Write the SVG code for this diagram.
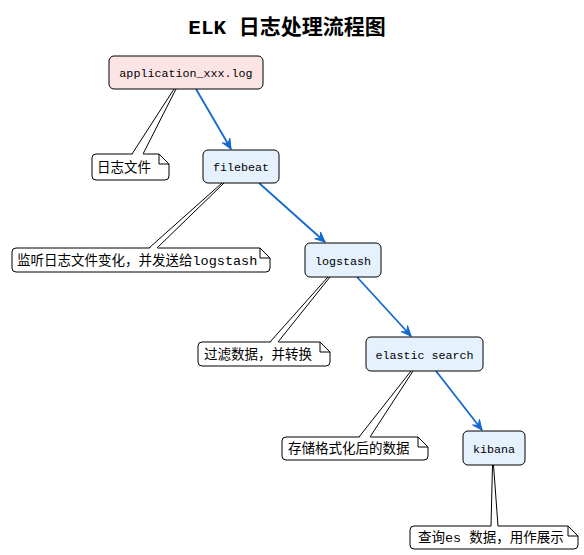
<svg xmlns="http://www.w3.org/2000/svg" width="584" height="555" viewBox="0 0 584 555">
<style>
.title{font-family:"Liberation Mono","Noto Sans CJK SC",monospace;font-size:21px;font-weight:bold;fill:#000;text-anchor:middle}
.node rect{stroke:#000;stroke-width:1}
.start rect{fill:#fde4e4}
.step rect{fill:#e5f1fd}
.node text{font-family:"Liberation Mono","Noto Sans CJK SC",monospace;font-size:11.7px;fill:#000;text-anchor:middle}
.note path.body{fill:#fff;stroke:#000;stroke-width:1}
.note path.fold{fill:none;stroke:#000;stroke-width:1}
.note polygon{fill:#fff;stroke:none}
.note line{stroke:#000;stroke-width:1}
.note text{font-family:"Liberation Mono","Noto Sans CJK SC",monospace;font-size:13.5px;fill:#000}
.edge{stroke:#1469d0;stroke-width:1.8;fill:none}
</style>
<defs>
<marker id="arr" markerUnits="userSpaceOnUse" markerWidth="14" markerHeight="12" viewBox="-11 -6 13 12" refX="0" refY="0" orient="auto">
<path d="M0,0 L-10,-4.5 L-6,0 L-10,4.5 Z" fill="#1469d0" stroke="#1469d0" stroke-width="1"/>
</marker>
</defs>
<rect width="584" height="555" fill="#fff"/>
<text class="title" x="287" y="34">ELK 日志处理流程图</text>

<g id="connectors">
<line class="edge" x1="196" y1="89" x2="231" y2="149" marker-end="url(#arr)"/>
<line class="edge" x1="259" y1="183" x2="325" y2="242" marker-end="url(#arr)"/>
<line class="edge" x1="357" y1="277" x2="411" y2="336" marker-end="url(#arr)"/>
<line class="edge" x1="436" y1="371" x2="482" y2="430" marker-end="url(#arr)"/>
</g>

<g id="note-app" class="note">
<path class="body" d="M96,154 H159 L169,164 V176 Q169,180 165,180 H96 Q92,180 92,176 V158 Q92,154 96,154 Z"/>
<path class="fold" d="M159,154 V164 H169"/>
<polygon points="175,89 132,155 143,155"/>
<line x1="174" y1="89" x2="132" y2="154"/>
<line x1="176" y1="89" x2="143" y2="154"/>
<text x="97" y="172">日志文件</text>
</g>

<g id="note-filebeat" class="note">
<path class="body" d="M16,248 H260 L270,258 V268 Q270,272 266,272 H16 Q12,272 12,268 V252 Q12,248 16,248 Z"/>
<path class="fold" d="M260,248 V258 H270"/>
<polygon points="223,183 149,249 157,249"/>
<line x1="222" y1="183" x2="149" y2="248"/>
<line x1="224" y1="183" x2="157" y2="248"/>
<text x="17" y="265">监听日志文件变化，并发送给logstash</text>
</g>

<g id="note-logstash" class="note">
<path class="body" d="M202,342 H320 L330,352 V362 Q330,366 326,366 H202 Q198,366 198,362 V346 Q198,342 202,342 Z"/>
<path class="fold" d="M320,342 V352 H330"/>
<polygon points="329,277 270,343 278,343"/>
<line x1="328" y1="277" x2="270" y2="342"/>
<line x1="330" y1="277" x2="278" y2="342"/>
<text x="204" y="359">过滤数据，并转换</text>
</g>

<g id="note-es" class="note">
<path class="body" d="M286,437 H418 L428,447 V456 Q428,460 424,460 H286 Q282,460 282,456 V441 Q282,437 286,437 Z"/>
<path class="fold" d="M418,437 V447 H428"/>
<polygon points="412,371 359,438 370,438"/>
<line x1="411" y1="371" x2="359" y2="437"/>
<line x1="413" y1="371" x2="370" y2="437"/>
<text x="288" y="453">存储格式化后的数据</text>
</g>

<g id="note-kibana" class="note">
<path class="body" d="M414,526 H568 L578,536 V545 Q578,549 574,549 H414 Q410,549 410,545 V530 Q410,526 414,526 Z"/>
<path class="fold" d="M568,526 V536 H578"/>
<polygon points="493,465 491,527 498,527"/>
<line x1="492.5" y1="465" x2="491" y2="526"/>
<line x1="493.5" y1="465" x2="498" y2="526"/>
<text x="418" y="542">查询es 数据，用作展示</text>
</g>

<g id="node-app" class="node start">
<rect x="109" y="56" width="154" height="33" rx="5"/>
<text x="186" y="77">application_xxx.log</text>
</g>
<g id="node-filebeat" class="node step">
<rect x="203" y="150" width="76" height="33" rx="5"/>
<text x="241" y="171">filebeat</text>
</g>
<g id="node-logstash" class="node step">
<rect x="305" y="243" width="76" height="34" rx="5"/>
<text x="343" y="265">logstash</text>
</g>
<g id="node-es" class="node step">
<rect x="366" y="337" width="117" height="34" rx="5"/>
<text x="424.5" y="359">elastic search</text>
</g>
<g id="node-kibana" class="node step">
<rect x="463" y="431" width="62" height="34" rx="5"/>
<text x="494" y="453">kibana</text>
</g>
</svg>
